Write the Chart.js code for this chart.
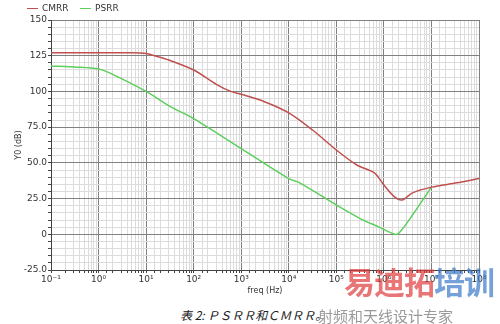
<!DOCTYPE html>
<html>
<head>
<meta charset="utf-8">
<script src="https://cdn.jsdelivr.net/npm/chart.js@4.4.1/dist/chart.umd.min.js"></script>
<style>
  html, body { margin: 0; padding: 0; background: #fff; }
  #wrap { position: relative; width: 500px; height: 324px; overflow: hidden; font-family: "DejaVu Sans", sans-serif; }
  #box { position: absolute; left: 0; top: 0; width: 500px; height: 300px; }
  .leg { position: absolute; top: 3px; font-size: 9px; color: #333; }
  .leg i { display: inline-block; width: 11px; height: 1px; vertical-align: middle; margin-right: 4px; }
  #cap { position: absolute; left: 180px; top: 306px; font-size: 12px; font-style: italic; color: #222; font-family: "Noto Sans CJK SC", sans-serif; white-space: nowrap; }
  #wm1 { position: absolute; left: 344px; top: 262px; font-size: 31px; font-weight: bold; font-family: "Noto Sans CJK SC", sans-serif; opacity: 0.7; letter-spacing: -1px; white-space: nowrap; line-height: 1.2; }
  #wm2 { position: absolute; left: 318px; top: 305px; font-size: 15px; color: #999; font-family: "Noto Sans CJK SC", sans-serif; white-space: nowrap; }
</style>
</head>
<body>
<div id="wrap">
  <div id="box"><canvas id="c"></canvas></div>
  <div class="leg" style="left:27px"><i style="background:#c05050"></i>CMRR</div>
  <div class="leg" style="left:80px"><i style="background:#5ccf5c"></i>PSRR</div>
  <div id="wm1"><span style="color:#e03c3c">易迪拓</span><span style="color:#3b78c8">培训</span></div>
  <div id="cap">表 2: ＰＳＲＲ和ＣＭＲＲ。</div>
  <div id="wm2">射频和天线设计专家</div>
</div>
<script>
// данные
const cmrrFreq = [0.1, 1, 5, 10, 15, 30, 100, 300, 600, 1000, 3000, 10000, 31600, 100000, 270000, 630000, 1000000, 1700000, 2400000, 4000000, 10000000, 34000000, 100000000];
const cmrrDb = [127, 127, 127, 126.5, 125, 122, 115, 105, 100, 98, 93, 85, 73, 59, 48.5, 43, 34.5, 26, 24, 29, 33, 36, 39];

const psrrFreq = [0.1, 0.35, 1, 1.7, 10, 31.6, 100, 1000, 10000, 17000, 100000, 316000, 800000, 1700000, 2100000, 4000000, 10000000];
const psrrDb = [117.8, 117, 115.7, 113, 100, 89.5, 81, 60, 39, 36, 20.5, 11, 5, 0, 1, 13.5, 33];

const yMajor = [150, 125, 100, 75, 50, 25, 0, -25];
const yLabels = ['150', '125', '100', '75.0', '50.0', '25.0', '0', '-25.0'];
const sup = { '-': '⁻', '0': '⁰', '1': '¹', '2': '²', '3': '³', '4': '⁴', '5': '⁵', '6': '⁶', '7': '⁷', '8': '⁸' };

const toPts = (xs, ys) => xs.map((x, i) => ({ x: x, y: ys[i] }));
const isDecade = v => Math.abs(Math.log10(v) - Math.round(Math.log10(v))) < 1e-6;

new Chart(document.getElementById('c'), {
  type: 'line',
  data: {
    datasets: [
      { label: 'CMRR', data: toPts(cmrrFreq, cmrrDb), borderColor: '#c05050', borderWidth: 1.5, pointRadius: 0, tension: 0.3 },
      { label: 'PSRR', data: toPts(psrrFreq, psrrDb), borderColor: '#5ccf5c', borderWidth: 1.5, pointRadius: 0, tension: 0.3 }
    ]
  },
  options: {
    responsive: true,
    maintainAspectRatio: false,
    animation: false,
    layout: { padding: { top: 20, right: 21, left: 0, bottom: 0 } },
    plugins: { legend: { display: false }, tooltip: { enabled: false } },
    scales: {
      x: {
        type: 'logarithmic',
        min: 0.1,
        max: 100000000,
        afterFit: s => { s.height = 30; },
        border: { color: '#444', width: 1 },
        grid: {
          color: ctx => isDecade(ctx.tick.value) ? '#808080' : '#dcdcdc',
          tickColor: '#444',
          tickLength: 3,
          drawTicks: true
        },
        ticks: {
          autoSkip: false,
          maxRotation: 0,
          padding: 1,
          color: '#333',
          font: { family: 'DejaVu Sans', size: 9 },
          callback: function (v) {
            if (!isDecade(v)) return '';
            const e = String(Math.round(Math.log10(v)));
            return '10' + e.split('').map(ch => sup[ch]).join('');
          }
        },
        title: { display: true, text: 'freq (Hz)', color: '#333', font: { family: 'DejaVu Sans', size: 8 }, padding: { top: 0, bottom: 4 } }
      },
      y: {
        min: -25,
        max: 150,
        afterFit: s => { s.width = 51; },
        border: { color: '#444', width: 1 },
        grid: {
          color: ctx => yMajor.includes(ctx.tick.value) ? '#808080' : '#dcdcdc',
          tickColor: '#444',
          tickLength: 3
        },
        ticks: {
          stepSize: 5,
          autoSkip: false,
          padding: 1,
          color: '#333',
          font: { family: 'DejaVu Sans', size: 9 },
          callback: v => {
            const i = yMajor.indexOf(v);
            return i >= 0 ? yLabels[i] : '';
          }
        },
        title: { display: true, text: 'Y0 (dB)', color: '#333', font: { family: 'DejaVu Sans', size: 8 }, padding: { top: 14, bottom: 0 } }
      }
    }
  }
});
</script>
</body>
</html>
